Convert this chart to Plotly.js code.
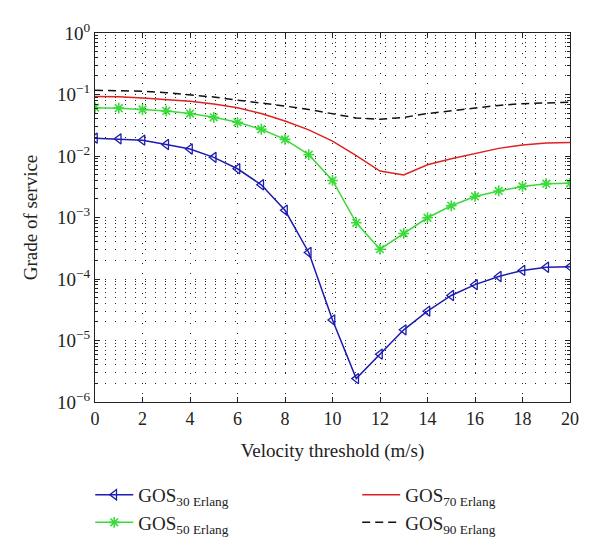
<!DOCTYPE html>
<html>
<head>
<meta charset="utf-8">
<script src="https://cdn.plot.ly/plotly-3.0.1.min.js"></script>
<style>
  html, body { margin: 0; padding: 0; background: #fff; }
  #plot { width: 600px; height: 554px; }
</style>
</head>
<body>
<div id="plot"></div>
<script>
// velocity threshold (m/s)
var velocity = [0, 1, 2, 3, 4, 5, 6, 7, 8, 9, 10, 11, 12, 13, 14, 15, 16, 17, 18, 19, 20];

// grade of service
var gos30 = [0.0195, 0.019, 0.0181, 0.0154, 0.013, 0.0095, 0.0062, 0.0034, 0.00131, 0.00027, 0.0000215,
             0.0000024, 0.000006, 0.0000149, 0.00003, 0.000054, 0.000081, 0.00011, 0.000138, 0.000155, 0.000158];
var gos50 = [0.061, 0.060, 0.057, 0.054, 0.049, 0.0425, 0.0353, 0.0272, 0.0186, 0.0105, 0.0040,
             0.00082, 0.000305, 0.00055, 0.00099, 0.00155, 0.0022, 0.0027, 0.0032, 0.00355, 0.0036];
var gos70 = [0.093, 0.092, 0.088, 0.084, 0.078, 0.070, 0.061, 0.049, 0.037, 0.0266, 0.0175,
             0.0101, 0.0057, 0.0049, 0.0072, 0.009, 0.011, 0.0133, 0.0151, 0.0162, 0.0166];
var gos90 = [0.117, 0.116, 0.113, 0.107, 0.100, 0.091, 0.081, 0.073, 0.065, 0.057, 0.049,
             0.0415, 0.0395, 0.0425, 0.049, 0.054, 0.061, 0.0665, 0.071, 0.0734, 0.075];

var yTickVals = [1e-6, 1e-5, 1e-4, 1e-3, 1e-2, 1e-1, 1];
var yTickText = ['10<sup>\u22126</sup>', '10<sup>\u22125</sup>', '10<sup>\u22124</sup>', '10<sup>\u22123</sup>',
                 '10<sup>\u22122</sup>', '10<sup>\u22121</sup>', '10<sup>0</sup>'];

var serif = 'Liberation Serif, Times New Roman, serif';
var dots = '1px,9px';

var data = [
  {
    x: velocity, y: gos30, name: 'GOS<sub>30 Erlang</sub>',
    type: 'scatter', mode: 'lines+markers', legend: 'legend',
    line: {color: '#1c1cb0', width: 1.5},
    marker: {symbol: 'triangle-left-open', size: 9, color: '#1c1cb0', line: {width: 1.3}}
  },
  {
    x: velocity, y: gos50, name: 'GOS<sub>50 Erlang</sub>',
    type: 'scatter', mode: 'lines+markers', legend: 'legend',
    line: {color: '#3ada3a', width: 1.5},
    marker: {symbol: 'asterisk-open', size: 9, color: '#3ada3a', line: {width: 1.6, color: '#3ada3a'}}
  },
  {
    x: velocity, y: gos70, name: 'GOS<sub>70 Erlang</sub>',
    type: 'scatter', mode: 'lines', legend: 'legend2',
    line: {color: '#dd2222', width: 1.5}
  },
  {
    x: velocity, y: gos90, name: 'GOS<sub>90 Erlang</sub>',
    type: 'scatter', mode: 'lines', legend: 'legend2',
    line: {color: '#111', width: 1.5, dash: '8px,5px'}
  }
];

var legendStyle = {
  orientation: 'v', xanchor: 'left', yanchor: 'top',
  font: {family: serif, size: 19, color: '#222'},
  bgcolor: 'rgba(0,0,0,0)', itemwidth: 38, tracegroupgap: 0
};

var layout = {
  width: 600,
  height: 554,
  margin: {l: 95, r: 30, t: 33, b: 149},
  paper_bgcolor: '#fff',
  plot_bgcolor: '#fff',
  font: {family: serif, size: 18, color: '#222'},
  showlegend: true,
  legend: Object.assign({x: -0.01, y: -0.2}, legendStyle),
  legend2: Object.assign({x: 0.552, y: -0.2}, legendStyle),
  xaxis: {
    range: [0, 20],
    dtick: 2,
    ticks: 'inside', ticklen: 5, tickcolor: '#222',
    showline: true, linecolor: '#222', linewidth: 1, mirror: 'allticks',
    showgrid: true, gridcolor: '#222', gridwidth: 1, griddash: dots,
    zeroline: false,
    tickfont: {family: serif, size: 18, color: '#222'},
    title: {text: 'Velocity threshold (m/s)', font: {family: serif, size: 19, color: '#222'}, standoff: 16}
  },
  yaxis: {
    type: 'log',
    range: [-6, 0],
    tickmode: 'array', tickvals: yTickVals, ticktext: yTickText,
    ticks: 'inside', ticklen: 5, tickcolor: '#222',
    showline: true, linecolor: '#222', linewidth: 1, mirror: 'allticks',
    showgrid: true, gridcolor: '#222', gridwidth: 1, griddash: dots,
    minor: {
      dtick: 'D1', ticks: 'inside', ticklen: 3, tickcolor: '#222',
      showgrid: true, gridcolor: '#222', gridwidth: 1, griddash: dots
    },
    zeroline: false,
    tickfont: {family: serif, size: 19, color: '#222'},
    title: {text: 'Grade of service', font: {family: serif, size: 19, color: '#222'}, standoff: 14}
  }
};

Plotly.newPlot('plot', data, layout, {displayModeBar: false, staticPlot: true});
</script>
</body>
</html>
